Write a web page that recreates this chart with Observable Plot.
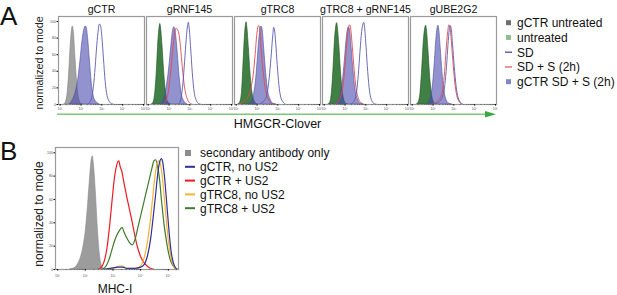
<!DOCTYPE html>
<html><head><meta charset="utf-8">
<script src="https://cdn.jsdelivr.net/npm/d3@7"></script>
<script src="https://cdn.jsdelivr.net/npm/@observablehq/plot@0.6"></script>
<style>
html,body{margin:0;padding:0;background:#fff;overflow:hidden;}
#wrap{position:relative;width:617px;height:295px;overflow:hidden;font-family:"Liberation Sans",Arial,sans-serif;}
#wrap > svg{position:absolute;}
</style></head><body><div id="wrap"></div>
<script>
// ---------- Panel A: facets (x = log10 HMGCR-Clover fluorescence, y = % of mode) ----------
const facetsA = ["gCTR", "gRNF145", "gTRC8", "gTRC8 + gRNF145", "gUBE2G2"];
const yTicks = [0, 20, 40, 60, 80, 100];
const decadeTicksA = [1, 2, 3, 4, 5];
const decadeTicksB = [1, 2, 3, 4, 5];

// gCTR
const A_gCTR_gctrUntreated = [[1.20,0],[1.28,3],[1.36,14],[1.44,40],[1.51,72],[1.57,90],[1.61,94],[1.66,86],[1.72,62],[1.79,34],[1.86,14],[1.93,5],[2.00,1],[2.10,0]];
const A_gCTR_gctrSDS = [[1.45,0],[1.55,3],[1.66,8],[1.77,17],[1.88,32],[1.98,54],[2.07,76],[2.15,89],[2.22,94],[2.27,93],[2.34,80],[2.43,52],[2.52,25],[2.62,9],[2.74,3],[2.90,0]];
const A_gCTR_SD = [[2.30,0],[2.40,2],[2.51,8],[2.60,22],[2.68,45],[2.76,72],[2.83,90],[2.88,97],[2.94,95],[3.00,82],[3.08,55],[3.16,28],[3.25,11],[3.35,4],[3.47,1],[3.60,0]];
// gRNF145
const A_gRNF145_untreated = [[1.18,0],[1.27,3],[1.34,14],[1.42,42],[1.49,76],[1.55,93],[1.58,97],[1.62,92],[1.69,70],[1.76,42],[1.83,20],[1.90,7],[1.99,2],[2.11,0]];
const A_gRNF145_gctrSDS = [[1.58,0],[1.69,3],[1.80,10],[1.91,24],[2.02,46],[2.11,70],[2.19,88],[2.26,93],[2.33,86],[2.42,62],[2.51,33],[2.61,13],[2.73,4],[2.89,0]];
const A_gRNF145_SDS = [[1.74,0],[1.85,4],[1.96,14],[2.07,36],[2.18,66],[2.27,86],[2.34,92],[2.41,90],[2.47,86],[2.55,70],[2.64,45],[2.74,22],[2.86,8],[2.99,2],[3.14,0]];
const A_gRNF145_SD = [[2.39,0],[2.50,2],[2.59,9],[2.67,26],[2.75,52],[2.83,80],[2.89,95],[2.93,99],[2.97,92],[3.04,68],[3.12,38],[3.21,15],[3.31,5],[3.43,1],[3.57,0]];
// gTRC8
const A_gTRC8_untreated = [[1.11,0],[1.20,3],[1.28,15],[1.35,48],[1.42,82],[1.47,96],[1.50,99],[1.54,92],[1.61,68],[1.68,40],[1.76,18],[1.84,7],[1.93,2],[2.04,0]];
const A_gTRC8_gctrSDS = [[1.62,0],[1.73,3],[1.84,10],[1.94,26],[2.03,52],[2.11,78],[2.18,92],[2.22,94],[2.28,88],[2.35,66],[2.44,38],[2.53,17],[2.65,6],[2.78,1],[2.93,0]];
const A_gTRC8_SDS = [[1.12,0],[1.28,2],[1.43,5],[1.58,10],[1.71,20],[1.82,36],[1.91,60],[1.99,84],[2.05,94],[2.09,95],[2.15,86],[2.22,60],[2.33,32],[2.44,14],[2.57,5],[2.72,1],[2.89,0]];
const A_gTRC8_SD = [[2.06,0],[2.22,2],[2.36,5],[2.46,10],[2.53,20],[2.61,38],[2.69,62],[2.76,84],[2.80,93],[2.84,90],[2.90,74],[2.97,48],[3.05,24],[3.14,9],[3.25,3],[3.38,0]];
// gTRC8 + gRNF145
const A_gTRC8gRNF145_untreated = [[1.21,0],[1.30,3],[1.37,14],[1.45,44],[1.52,78],[1.58,94],[1.62,98],[1.66,92],[1.73,70],[1.80,42],[1.88,18],[1.96,6],[2.05,1],[2.16,0]];
const A_gTRC8gRNF145_gctrSDS = [[1.55,0],[1.66,3],[1.78,10],[1.89,26],[1.99,52],[2.07,76],[2.13,89],[2.19,93],[2.25,88],[2.32,68],[2.41,40],[2.50,18],[2.62,6],[2.76,1],[2.90,0]];
const A_gTRC8gRNF145_SDS = [[1.53,0],[1.66,3],[1.78,9],[1.90,22],[2.00,46],[2.09,74],[2.16,91],[2.22,96],[2.28,90],[2.35,70],[2.44,42],[2.53,20],[2.65,7],[2.78,2],[2.93,0]];
const A_gTRC8gRNF145_SD = [[2.23,0],[2.36,2],[2.47,6],[2.56,16],[2.64,36],[2.72,64],[2.80,88],[2.86,97],[2.90,99],[2.94,93],[3.01,70],[3.09,40],[3.18,16],[3.28,5],[3.40,1],[3.55,0]];
// gUBE2G2
const A_gUBE2G2_untreated = [[1.23,0],[1.32,3],[1.40,14],[1.48,42],[1.56,76],[1.63,92],[1.67,95],[1.71,89],[1.78,66],[1.85,38],[1.93,16],[2.01,5],[2.10,1],[2.21,0]];
const A_gUBE2G2_gctrSDS = [[1.72,0],[1.82,3],[1.92,10],[2.01,26],[2.09,52],[2.16,78],[2.22,92],[2.26,95],[2.30,90],[2.37,68],[2.45,40],[2.54,18],[2.64,6],[2.78,1],[2.92,0]];
const A_gUBE2G2_SDS = [[1.96,0],[2.12,2],[2.26,5],[2.38,10],[2.48,20],[2.56,40],[2.63,66],[2.70,86],[2.76,96],[2.80,95],[2.87,80],[2.95,54],[3.04,28],[3.14,11],[3.25,4],[3.38,0]];
const A_gUBE2G2_SD = [[2.06,0],[2.22,2],[2.36,5],[2.48,11],[2.57,24],[2.65,46],[2.72,72],[2.78,90],[2.82,95],[2.88,90],[2.94,72],[3.02,46],[3.11,22],[3.21,8],[3.34,2],[3.47,0]];

// ---------- Panel B (x = log10 MHC-I fluorescence) ----------
const B_secondary = [[1.45,0],[1.60,1],[1.72,4],[1.82,9],[1.92,18],[2.02,34],[2.10,56],[2.17,78],[2.23,94],[2.27,97],[2.31,90],[2.38,66],[2.45,36],[2.52,14],[2.60,3],[2.70,0]];
const B_gCTR_US2 = [[2.45,0],[2.58,2],[2.68,7],[2.78,18],[2.88,38],[2.97,60],[3.05,78],[3.13,89],[3.21,93],[3.26,88],[3.31,85],[3.40,74],[3.50,62],[3.60,51],[3.70,40],[3.80,28],[3.90,18],[4.00,11],[4.15,5],[4.35,1],[4.50,0]];
const B_gTRC8_US2 = [[2.60,0],[2.75,3],[2.85,8],[2.95,16],[3.05,24],[3.15,30],[3.25,34],[3.33,36],[3.40,32],[3.50,27],[3.60,23],[3.70,21],[3.80,26],[3.90,36],[4.00,46],[4.10,56],[4.20,66],[4.30,76],[4.40,86],[4.48,93],[4.54,94],[4.60,90],[4.68,78],[4.76,58],[4.85,38],[4.95,22],[5.05,10],[5.15,4],[5.28,0]];
const B_gTRC8_noUS2 = [[2.70,0],[3.00,1],[3.25,3],[3.35,3],[3.50,1],[3.80,1],[4.00,3],[4.10,8],[4.22,20],[4.33,38],[4.43,60],[4.52,80],[4.60,91],[4.66,93],[4.72,90],[4.80,76],[4.88,55],[4.96,34],[5.04,18],[5.12,8],[5.22,2],[5.32,0]];
const B_gCTR_noUS2 = [[2.60,0],[2.90,1],[3.20,2],[3.35,2],[3.50,1],[3.80,1],[4.00,2],[4.12,4],[4.25,12],[4.36,26],[4.45,44],[4.55,66],[4.63,84],[4.70,93],[4.75,95],[4.80,92],[4.87,78],[4.95,55],[5.03,32],[5.10,16],[5.18,6],[5.28,1],[5.36,0]];

// ---------- helpers ----------
const rowsOf = (facet, pts) => pts.map(([x, y]) => ({facet, x, y}));
const ptsOf = (pts) => pts.map(([x, y]) => ({x, y}));
const sup = {1:"\u00b9",2:"\u00b2",3:"\u00b3",4:"\u2074",5:"\u2075"};
const fmtDec = d => "10" + sup[d];
const minorOf = (lo, hi) => {
  const out = [];
  for (let d = Math.floor(lo); d <= Math.ceil(hi); d++) for (let k = 2; k <= 9; k++) {
    const v = d + Math.log10(k); if (v > lo && v < hi) out.push(v);
  }
  return out;
};
const FONT = '"Liberation Sans", Arial, sans-serif';

const grayRows = rowsOf("gCTR", A_gCTR_gctrUntreated);
const greenRows = [
  ...rowsOf("gRNF145", A_gRNF145_untreated), ...rowsOf("gTRC8", A_gTRC8_untreated),
  ...rowsOf("gTRC8 + gRNF145", A_gTRC8gRNF145_untreated), ...rowsOf("gUBE2G2", A_gUBE2G2_untreated)];
const lavRows = [
  ...rowsOf("gCTR", A_gCTR_gctrSDS), ...rowsOf("gRNF145", A_gRNF145_gctrSDS), ...rowsOf("gTRC8", A_gTRC8_gctrSDS),
  ...rowsOf("gTRC8 + gRNF145", A_gTRC8gRNF145_gctrSDS), ...rowsOf("gUBE2G2", A_gUBE2G2_gctrSDS)];
const redRows = [
  ...rowsOf("gRNF145", A_gRNF145_SDS), ...rowsOf("gTRC8", A_gTRC8_SDS),
  ...rowsOf("gTRC8 + gRNF145", A_gTRC8gRNF145_SDS), ...rowsOf("gUBE2G2", A_gUBE2G2_SDS)];
const sdRows = [
  ...rowsOf("gCTR", A_gCTR_SD), ...rowsOf("gRNF145", A_gRNF145_SD), ...rowsOf("gTRC8", A_gTRC8_SD),
  ...rowsOf("gTRC8 + gRNF145", A_gTRC8gRNF145_SD), ...rowsOf("gUBE2G2", A_gUBE2G2_SD)];

const xDomA = [0.92, 5.05];
const C = "monotone-x";
const blank = () => "";
const plotA = Plot.plot({
  width: 510, height: 112,
  marginLeft: 57, marginRight: 12, marginTop: 16, marginBottom: 8,
  style: {fontFamily: FONT, background: "transparent"},
  fx: {domain: facetsA, paddingInner: 0.0225, paddingOuter: 0, label: null},
  x: {domain: xDomA},
  y: {domain: [0, 106]},
  marks: [
    Plot.areaY(grayRows, {x: "x", y: "y", fx: "facet", fill: "#a2a2a2", stroke: "#7d7d7d", strokeWidth: 0.6, curve: C}),
    Plot.areaY(greenRows, {x: "x", y: "y", fx: "facet", fill: "#1f6a24", fillOpacity: 0.85, stroke: "#1d4f1f", strokeWidth: 0.6, curve: C}),
    Plot.areaY(lavRows, {x: "x", y: "y", fx: "facet", fill: "#4a4aad", fillOpacity: 0.6, stroke: "#4a4a9e", strokeWidth: 0.6, curve: C}),
    Plot.line(redRows, {x: "x", y: "y", fx: "facet", stroke: "#e2474c", strokeWidth: 0.9, curve: C}),
    Plot.line(sdRows, {x: "x", y: "y", fx: "facet", stroke: "#5a5ab0", strokeWidth: 0.9, curve: C}),
    Plot.frame({stroke: "#9a9a9a", strokeWidth: 1.2}),
    Plot.axisFx({anchor: "top", tickSize: 0, tickPadding: 4, fontSize: 10.6, fill: "#111", label: null}),
    Plot.axisX({ticks: decadeTicksA, tickFormat: fmtDec, tickSize: 1.6, tickPadding: 1, fontSize: 3.6, fill: "#555", label: null}),
    Plot.axisX({ticks: minorOf(xDomA[0], xDomA[1]), tickFormat: blank, tickSize: 1, label: null, stroke: "#666"}),
    Plot.axisY({ticks: yTicks, tickSize: 1.5, tickPadding: 1, fontSize: 3.6, fill: "#555", label: null})
  ]
});
plotA.style.left = "0px"; plotA.style.top = "0px";

const xDomB = [0.92, 5.37];
const plotB = Plot.plot({
  width: 185, height: 137,
  marginLeft: 55, marginRight: 7, marginTop: 7, marginBottom: 8,
  style: {fontFamily: FONT, background: "transparent"},
  x: {domain: xDomB},
  y: {domain: [0, 104.5]},
  marks: [
    Plot.areaY(ptsOf(B_secondary), {x: "x", y: "y", fill: "#9c9c9c", stroke: "#8a8a8a", strokeWidth: 0.6, curve: C}),
    Plot.line(ptsOf(B_gCTR_US2), {x: "x", y: "y", stroke: "#ec1c24", strokeWidth: 1.2, curve: C}),
    Plot.line(ptsOf(B_gTRC8_US2), {x: "x", y: "y", stroke: "#3e7b2c", strokeWidth: 1.2, curve: C}),
    Plot.line(ptsOf(B_gTRC8_noUS2), {x: "x", y: "y", stroke: "#f9b233", strokeWidth: 1.2, curve: C}),
    Plot.line(ptsOf(B_gCTR_noUS2), {x: "x", y: "y", stroke: "#2e3192", strokeWidth: 1.2, curve: C}),
    Plot.frame({stroke: "#9a9a9a", strokeWidth: 1.2}),
    Plot.axisX({ticks: decadeTicksB, tickFormat: fmtDec, tickSize: 1.6, tickPadding: 3, fontSize: 3.6, fill: "#555", label: null}),
    Plot.axisX({ticks: minorOf(xDomB[0], xDomB[1]), tickFormat: blank, tickSize: 1, label: null, stroke: "#666"}),
    Plot.axisY({ticks: yTicks, tickSize: 1.5, tickPadding: 1, fontSize: 3.6, fill: "#555", label: null})
  ]
});
plotB.style.left = "0px"; plotB.style.top = "140px";

// ---------- legends & annotations ----------
const legendA = ["gCTR untreated", "untreated", "SD", "SD + S (2h)", "gCTR SD + S (2h)"];
const legendAColors = ["#6f6f6f", "#8fbf8f", "#3a3a9a", "#e05050", "#8484c8"];
const legendAKinds = ["box", "box", "line", "line", "box"];
const legendB = ["secondary antibody only", "gCTR, no US2", "gCTR + US2", "gTRC8, no US2", "gTRC8 + US2"];
const legendBColors = ["#8c8c8c", "#2e3192", "#ec1c24", "#f9b233", "#3e7b2c"];
const legendBKinds = ["box", "line", "line", "line", "line"];

let svg = `<svg width="617" height="295" style="left:0;top:0" font-family='${FONT}'>`;
svg += `<text x="0" y="25" font-size="26" fill="#111">A</text>`;
svg += `<text x="0" y="160" font-size="26" fill="#111">B</text>`;
svg += `<text transform="translate(43,63) rotate(-90)" text-anchor="middle" font-size="10.6" fill="#222">normalized to mode</text>`;
svg += `<text transform="translate(43,214) rotate(-90)" text-anchor="middle" font-size="12" fill="#222">normalized to mode</text>`;
svg += `<line x1="57" y1="114.3" x2="488" y2="114.3" stroke="#7cc97c" stroke-width="1.4"/>`;
svg += `<polygon points="485,111 496,114.3 485,117.6" fill="#3aa846"/>`;
svg += `<text x="277.5" y="127.5" text-anchor="middle" font-size="12.5" fill="#111">HMGCR-Clover</text>`;
svg += `<text x="115" y="292.5" text-anchor="middle" font-size="12" fill="#111">MHC-I</text>`;
legendA.forEach((t, i) => {
  const cy = 22.7 + i * 14.75;
  if (legendAKinds[i] === "box") svg += `<rect x="506" y="${cy - 2.5}" width="5" height="5" fill="${legendAColors[i]}"/>`;
  else svg += `<line x1="505" y1="${cy}" x2="512" y2="${cy}" stroke="${legendAColors[i]}" stroke-width="1.2"/>`;
  svg += `<text x="517" y="${cy + 4.3}" font-size="12" fill="#111">${t}</text>`;
});
legendB.forEach((t, i) => {
  const cy = 153 + i * 13.8;
  if (legendBKinds[i] === "box") svg += `<rect x="185" y="${cy - 3}" width="6" height="6" fill="${legendBColors[i]}"/>`;
  else svg += `<line x1="185" y1="${cy}" x2="195" y2="${cy}" stroke="${legendBColors[i]}" stroke-width="2"/>`;
  svg += `<text x="200" y="${cy + 4.3}" font-size="12" fill="#111">${t}</text>`;
});
svg += `</svg>`;

const wrap = document.getElementById("wrap");
wrap.appendChild(plotA);
wrap.appendChild(plotB);
wrap.insertAdjacentHTML("beforeend", svg);
</script></body></html>
